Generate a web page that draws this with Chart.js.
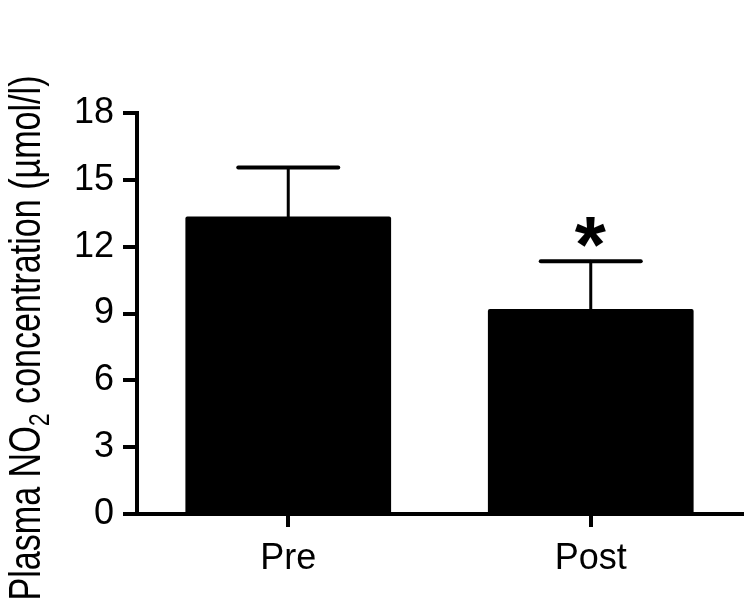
<!DOCTYPE html>
<html>
<head>
<meta charset="utf-8">
<script src="https://cdn.jsdelivr.net/npm/chart.js@4/dist/chart.umd.min.js"></script>
<style>
  html, body { margin: 0; padding: 0; background: #ffffff; }
  #wrap { width: 748px; height: 607px; position: relative; }
</style>
</head>
<body>
<div id="wrap"><canvas id="c" width="748" height="607"></canvas></div>
<script>
// ---- data ----
const categories = ["Pre", "Post"];
const means = [13.35, 9.2];
const sems = [2.2, 2.15];
const significance = ["", "*"];
const yTicks = [0, 3, 6, 9, 12, 15, 18];
const yTitleMain = "Plasma NO";
const yTitleSub = "2";
const yTitleRest = " concentration (\u00B5mol/l)";

const FONT = "'Liberation Sans', Arial, Helvetica, sans-serif";

const errorBarPlugin = {
  id: 'errorBars',
  afterDatasetsDraw(chart) {
    const ctx = chart.ctx;
    const xs = chart.scales.x, ys = chart.scales.y;
    ctx.save();
    ctx.strokeStyle = '#000';
    ctx.lineCap = 'round';
    means.forEach((m, i) => {
      const x = xs.getPixelForValue(i);
      const yBar = ys.getPixelForValue(m);
      const yTop = ys.getPixelForValue(m + sems[i]);
      ctx.lineWidth = 3;
      ctx.beginPath();
      ctx.moveTo(x, yBar);
      ctx.lineTo(x, yTop);
      ctx.stroke();
      ctx.lineWidth = 4;
      ctx.beginPath();
      ctx.moveTo(x - 50, yTop);
      ctx.lineTo(x + 50, yTop);
      ctx.stroke();
      if (significance[i]) {
        ctx.fillStyle = '#000';
        ctx.font = "bold 80px " + FONT;
        const mt = ctx.measureText(significance[i]);
        const h = mt.actualBoundingBoxAscent + mt.actualBoundingBoxDescent;
        const w = mt.actualBoundingBoxLeft + mt.actualBoundingBoxRight;
        const cy = yTop - 29;
        ctx.textBaseline = 'alphabetic';
        ctx.textAlign = 'left';
        ctx.fillText(significance[i], x - w / 2 + mt.actualBoundingBoxLeft, cy + h / 2 - mt.actualBoundingBoxDescent);
      }
    });
    ctx.restore();
  }
};

const yTitlePlugin = {
  id: 'yTitle',
  afterDraw(chart) {
    const ctx = chart.ctx;
    ctx.save();
    ctx.fillStyle = '#000';
    ctx.textBaseline = 'alphabetic';
    ctx.textAlign = 'left';
    const mainFont = "44px " + FONT;
    const subFont = "30px " + FONT;
    ctx.font = mainFont;
    const w1 = ctx.measureText(yTitleMain).width;
    const w3 = ctx.measureText(yTitleRest).width;
    ctx.font = subFont;
    const w2 = ctx.measureText(yTitleSub).width;
    const total = w1 + w2 + w3;
    const squeeze = 525 / total;
    const cx = 40;   // baseline x position
    const cy = 338;  // center along the text
    ctx.translate(cx, cy);
    ctx.rotate(-Math.PI / 2);
    ctx.scale(squeeze, 1);
    let pos = -total / 2;
    ctx.font = mainFont;
    ctx.fillText(yTitleMain, pos, 0);
    pos += w1;
    ctx.font = subFont;
    ctx.fillText(yTitleSub, pos, 9);
    pos += w2;
    ctx.font = mainFont;
    ctx.fillText(yTitleRest, pos, 0);
    ctx.restore();
  }
};

new Chart(document.getElementById('c'), {
  type: 'bar',
  data: {
    labels: categories,
    datasets: [{
      data: means,
      backgroundColor: '#000',
      borderWidth: 0,
      borderRadius: 2,
      categoryPercentage: 1.0,
      barPercentage: 0.68
    }]
  },
  options: {
    responsive: false,
    animation: false,
    devicePixelRatio: 1,
    layout: { padding: { top: 113, right: 6, left: 0, bottom: 0 } },
    plugins: { legend: { display: false }, tooltip: { enabled: false } },
    scales: {
      x: {
        offset: true,
        border: { display: true, color: '#000', width: 4 },
        grid: { display: true, drawOnChartArea: false, offset: false, color: '#000', lineWidth: 4, tickLength: 13, tickWidth: 4 },
        ticks: { color: '#000', font: { family: FONT, size: 36 }, padding: 10 },
        afterFit(scale) { scale.height = 93; }
      },
      y: {
        min: 0, max: 18,
        afterBuildTicks(scale) { scale.ticks = yTicks.map(v => ({ value: v })); },
        border: { display: true, color: '#000', width: 4 },
        grid: { display: true, drawOnChartArea: false, color: '#000', lineWidth: 4, tickLength: 14, tickWidth: 4 },
        ticks: { color: '#000', font: { family: FONT, size: 36 }, padding: 9 },
        afterFit(scale) { scale.width = 137; }
      }
    }
  },
  plugins: [errorBarPlugin, yTitlePlugin]
});
</script>
</body>
</html>
